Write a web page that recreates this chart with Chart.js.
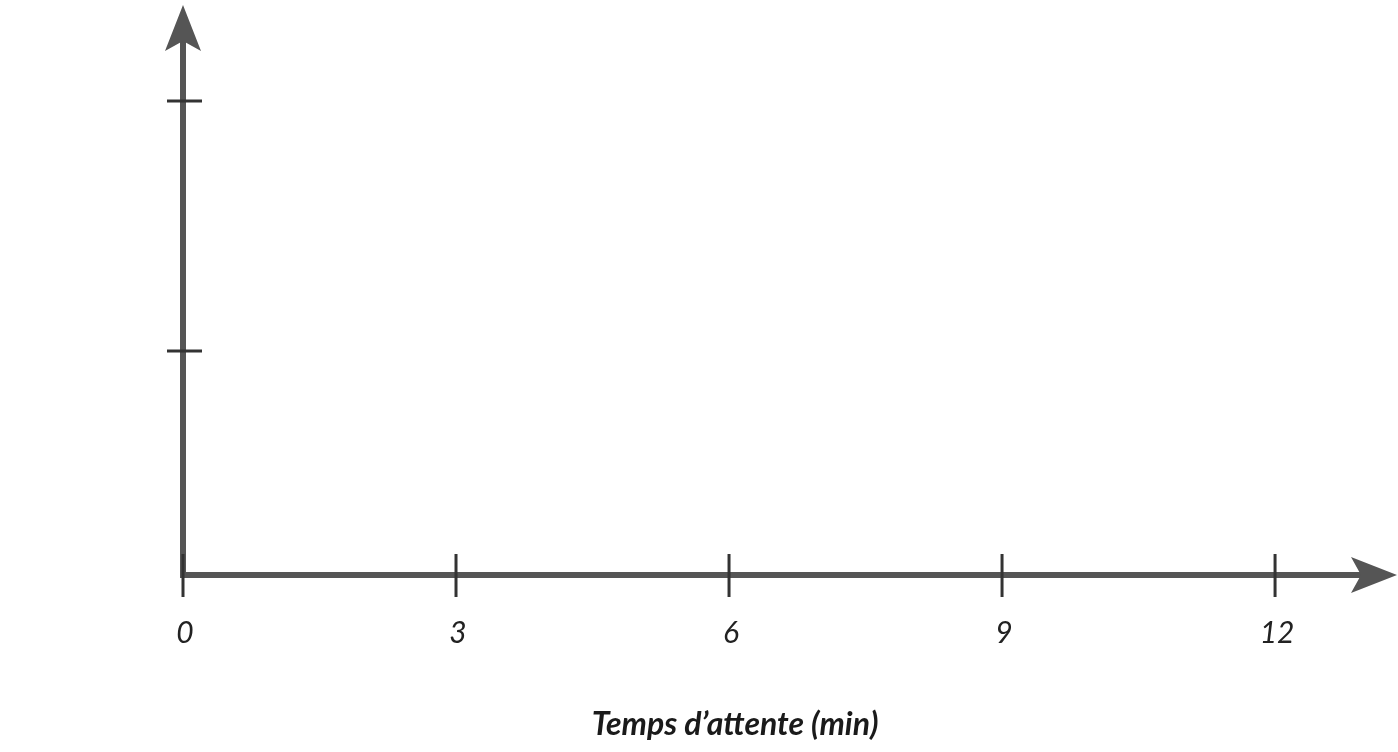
<!DOCTYPE html>
<html><head><meta charset="utf-8">
<script src="https://cdn.jsdelivr.net/npm/chart.js@4/dist/chart.umd.min.js"></script>
<style>html,body{margin:0;padding:0;background:#fff;}#wrap{width:1398px;height:752px;}</style>
</head><body><div id="wrap"><canvas id="c" width="1398" height="752"></canvas></div>
<script>
const xTickValues = [0, 3, 6, 9, 12];
const xTickLabels = ['0', '3', '6', '9', '12'];
const yTickValues = [0.896, 1.896];
const xAxisTitle = 'Temps d\u2019attente (min)';
const xMax = 13.34;
const yMax = 2.28;

const axisColor = '#555555';
const tickColor = '#333333';

const axesPlugin = {
  id: 'axesPlugin',
  afterDraw(chart) {
    const ctx = chart.ctx;
    const xs = chart.scales.x, ys = chart.scales.y;
    const x0 = xs.getPixelForValue(0), y0 = ys.getPixelForValue(0);
    const xEnd = xs.getPixelForValue(xMax), yEnd = ys.getPixelForValue(yMax);
    ctx.save();
    // axis lines
    ctx.strokeStyle = axisColor; ctx.lineWidth = 6; ctx.lineCap = 'butt';
    ctx.beginPath(); ctx.moveTo(x0, y0 + 3); ctx.lineTo(x0, yEnd + 30); ctx.stroke();
    ctx.beginPath(); ctx.moveTo(x0 - 3, y0); ctx.lineTo(xEnd - 30, y0); ctx.stroke();
    // arrows
    ctx.fillStyle = axisColor;
    ctx.beginPath();
    ctx.moveTo(x0, yEnd); ctx.lineTo(x0 + 18, yEnd + 46); ctx.lineTo(x0, yEnd + 36); ctx.lineTo(x0 - 18, yEnd + 46); ctx.closePath(); ctx.fill();
    ctx.beginPath();
    ctx.moveTo(xEnd, y0); ctx.lineTo(xEnd - 46, y0 - 18); ctx.lineTo(xEnd - 36, y0); ctx.lineTo(xEnd - 46, y0 + 18); ctx.closePath(); ctx.fill();
    // x ticks
    ctx.strokeStyle = tickColor; ctx.lineWidth = 3;
    xTickValues.forEach(v => {
      const px = xs.getPixelForValue(v);
      ctx.beginPath(); ctx.moveTo(px, y0 - 21); ctx.lineTo(px, y0 + 22); ctx.stroke();
    });
    // y ticks
    yTickValues.forEach(v => {
      const py = ys.getPixelForValue(v);
      ctx.beginPath(); ctx.moveTo(x0 - 16, py); ctx.lineTo(x0 + 19, py); ctx.stroke();
    });
    // tick labels
    ctx.fillStyle = '#222222';
    ctx.font = 'italic 30px Lato';
    ctx.textAlign = 'center'; ctx.textBaseline = 'alphabetic';
    xTickValues.forEach((v, i) => {
      ctx.fillText(xTickLabels[i], xs.getPixelForValue(v) + 2, y0 + 68);
    });
    // title
    ctx.fillStyle = '#1a1a1a';
    ctx.font = 'italic bold 32px Lato';
    ctx.fillText(xAxisTitle, xs.getPixelForValue(6) + 6, y0 + 160);
    ctx.restore();
  }
};

new Chart(document.getElementById('c'), {
  type: 'scatter',
  data: { datasets: [{ data: [] }] },
  options: {
    responsive: false,
    animation: false,
    events: [],
    layout: { padding: { left: 183, right: 1, top: 5, bottom: 177 } },
    plugins: { legend: { display: false }, tooltip: { enabled: false } },
    scales: {
      x: { type: 'linear', min: 0, max: xMax, display: false },
      y: { type: 'linear', min: 0, max: yMax, display: false }
    }
  },
  plugins: [axesPlugin]
});
</script>
</body></html>
